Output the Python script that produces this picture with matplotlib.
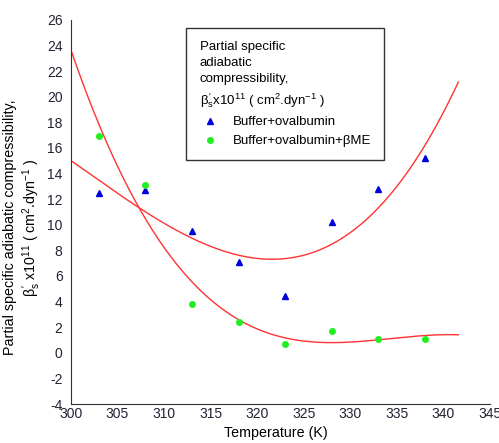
import numpy as np
import matplotlib
matplotlib.use('Agg')
import matplotlib.pyplot as plt

plt.rcParams['font.family'] = ['Liberation Sans', 'DejaVu Sans']
plt.rcParams['mathtext.fontset'] = 'custom'
plt.rcParams['mathtext.rm'] = 'Liberation Sans'
plt.rcParams['mathtext.it'] = 'Liberation Sans'
plt.rcParams['axes.unicode_minus'] = False

# temperatures (K)
temp = [303, 308, 313, 318, 323, 328, 333, 338]
# Buffer+ovalbumin
beta_buffer = [12.5, 12.7, 9.5, 7.1, 4.4, 10.2, 12.8, 15.2]
# Buffer+ovalbumin+bME
beta_bme = [16.9, 13.1, 3.8, 2.4, 0.7, 1.7, 1.1, 1.1]

fit_start, fit_end = 300, 341.6
beta_txt = r"$\beta^{\prime}_{s}$"

fig = plt.figure(figsize=(4.99, 4.43), dpi=100)
ax = fig.add_axes([0.142, 0.088, 0.84, 0.867])

# polynomial trend lines
xs = np.linspace(fit_start, fit_end, 200)
p1 = np.polyfit(temp, beta_buffer, 3)
p2 = np.polyfit(temp, beta_bme, 3)
ax.plot(xs, np.polyval(p1, xs), color='#ff3333', lw=1)
ax.plot(xs, np.polyval(p2, xs), color='#ff3333', lw=1)

ax.plot(temp, beta_buffer, '^', color='#0000dd', ms=4.5, ls='none',
        label='Buffer+ovalbumin')
ax.plot(temp, beta_bme, 'o', color='#22ee22', ms=4, ls='none',
        label='Buffer+ovalbumin+\u03b2ME')

ax.set_xlim(300, 345)
ax.set_ylim(-4, 26)
ax.set_xticks(range(300, 346, 5))
ax.set_yticks(range(-4, 27, 2))
ax.tick_params(length=0, labelsize=10, colors='#222233')
ax.tick_params(axis='y', pad=6)
ax.tick_params(axis='x', pad=2)
for s in ['top', 'right']:
    ax.spines[s].set_visible(False)
for s in ['left', 'bottom']:
    ax.spines[s].set_color('#333333')

ax.set_xlabel('Temperature (K)', fontsize=10.3)
ax.xaxis.set_label_coords(0.488, -0.058)
ax.set_ylabel('Partial specific adiabatic compressibility,\n'
              + beta_txt + r" x10$^{11}$ ( cm$^{2}$.dyn$^{-1}$ )",
              fontsize=10.3)
ax.yaxis.set_label_coords(-0.066, 0.46)

leg = ax.legend(title='Partial specific\nadiabatic\ncompressibility,\n'
                + beta_txt + r"x10$^{11}$ ( cm$^{2}$.dyn$^{-1}$ )",
                loc='upper left', bbox_to_anchor=(0.26, 0.997),
                fontsize=9.5, title_fontsize=9.5, fancybox=False,
                edgecolor='#333333', framealpha=1, handletextpad=1.0,
                borderpad=1.0, labelspacing=0.5, handlelength=1.5)
leg._legend_box.align = 'left'
leg.get_title().set_linespacing(1.45)
leg.get_frame().set_linewidth(1)

fig.savefig('out.png', dpi=100)
